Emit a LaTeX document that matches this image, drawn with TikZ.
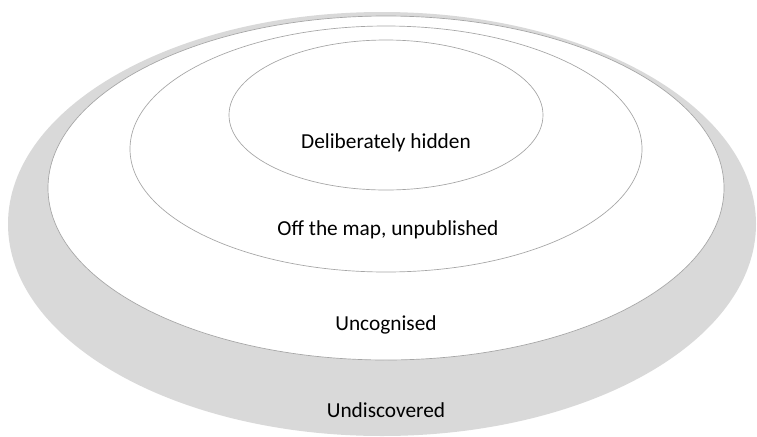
\documentclass[tikz,border=0pt]{standalone}
\usepackage{fontspec}
\setmainfont{Carlito}
\definecolor{ringgray}{RGB}{217,217,217}
\definecolor{edgegray}{RGB}{165,165,165}
\begin{document}
\begin{tikzpicture}[x=0.75pt,y=-0.75pt,
  ring/.style={draw=edgegray,line width=0.5pt,fill=white},
  lbl/.style={font=\fontsize{16}{19}\selectfont,text=black,inner sep=0pt}]
\useasboundingbox (0,0) rectangle (757,436);
\begin{scope}
\clip (0,0) rectangle (757,436);
\fill[ringgray] (382,224) ellipse [x radius=374,y radius=212];
\draw[ring] (386,188) ellipse [x radius=338,y radius=172];
\draw[ring] (386,149) ellipse [x radius=256,y radius=123];
\draw[ring] (386,115) ellipse [x radius=157,y radius=75];
\end{scope}
\node[lbl] (hidden) at (386,143) {Deliberately hidden};
\node[lbl] (offmap) at (388,230) {Off the map, unpublished};
\node[lbl] (uncog) at (386,325) {Uncognised};
\node[lbl] (undisc) at (386,410) {Undiscovered};
\end{tikzpicture}
\end{document}
